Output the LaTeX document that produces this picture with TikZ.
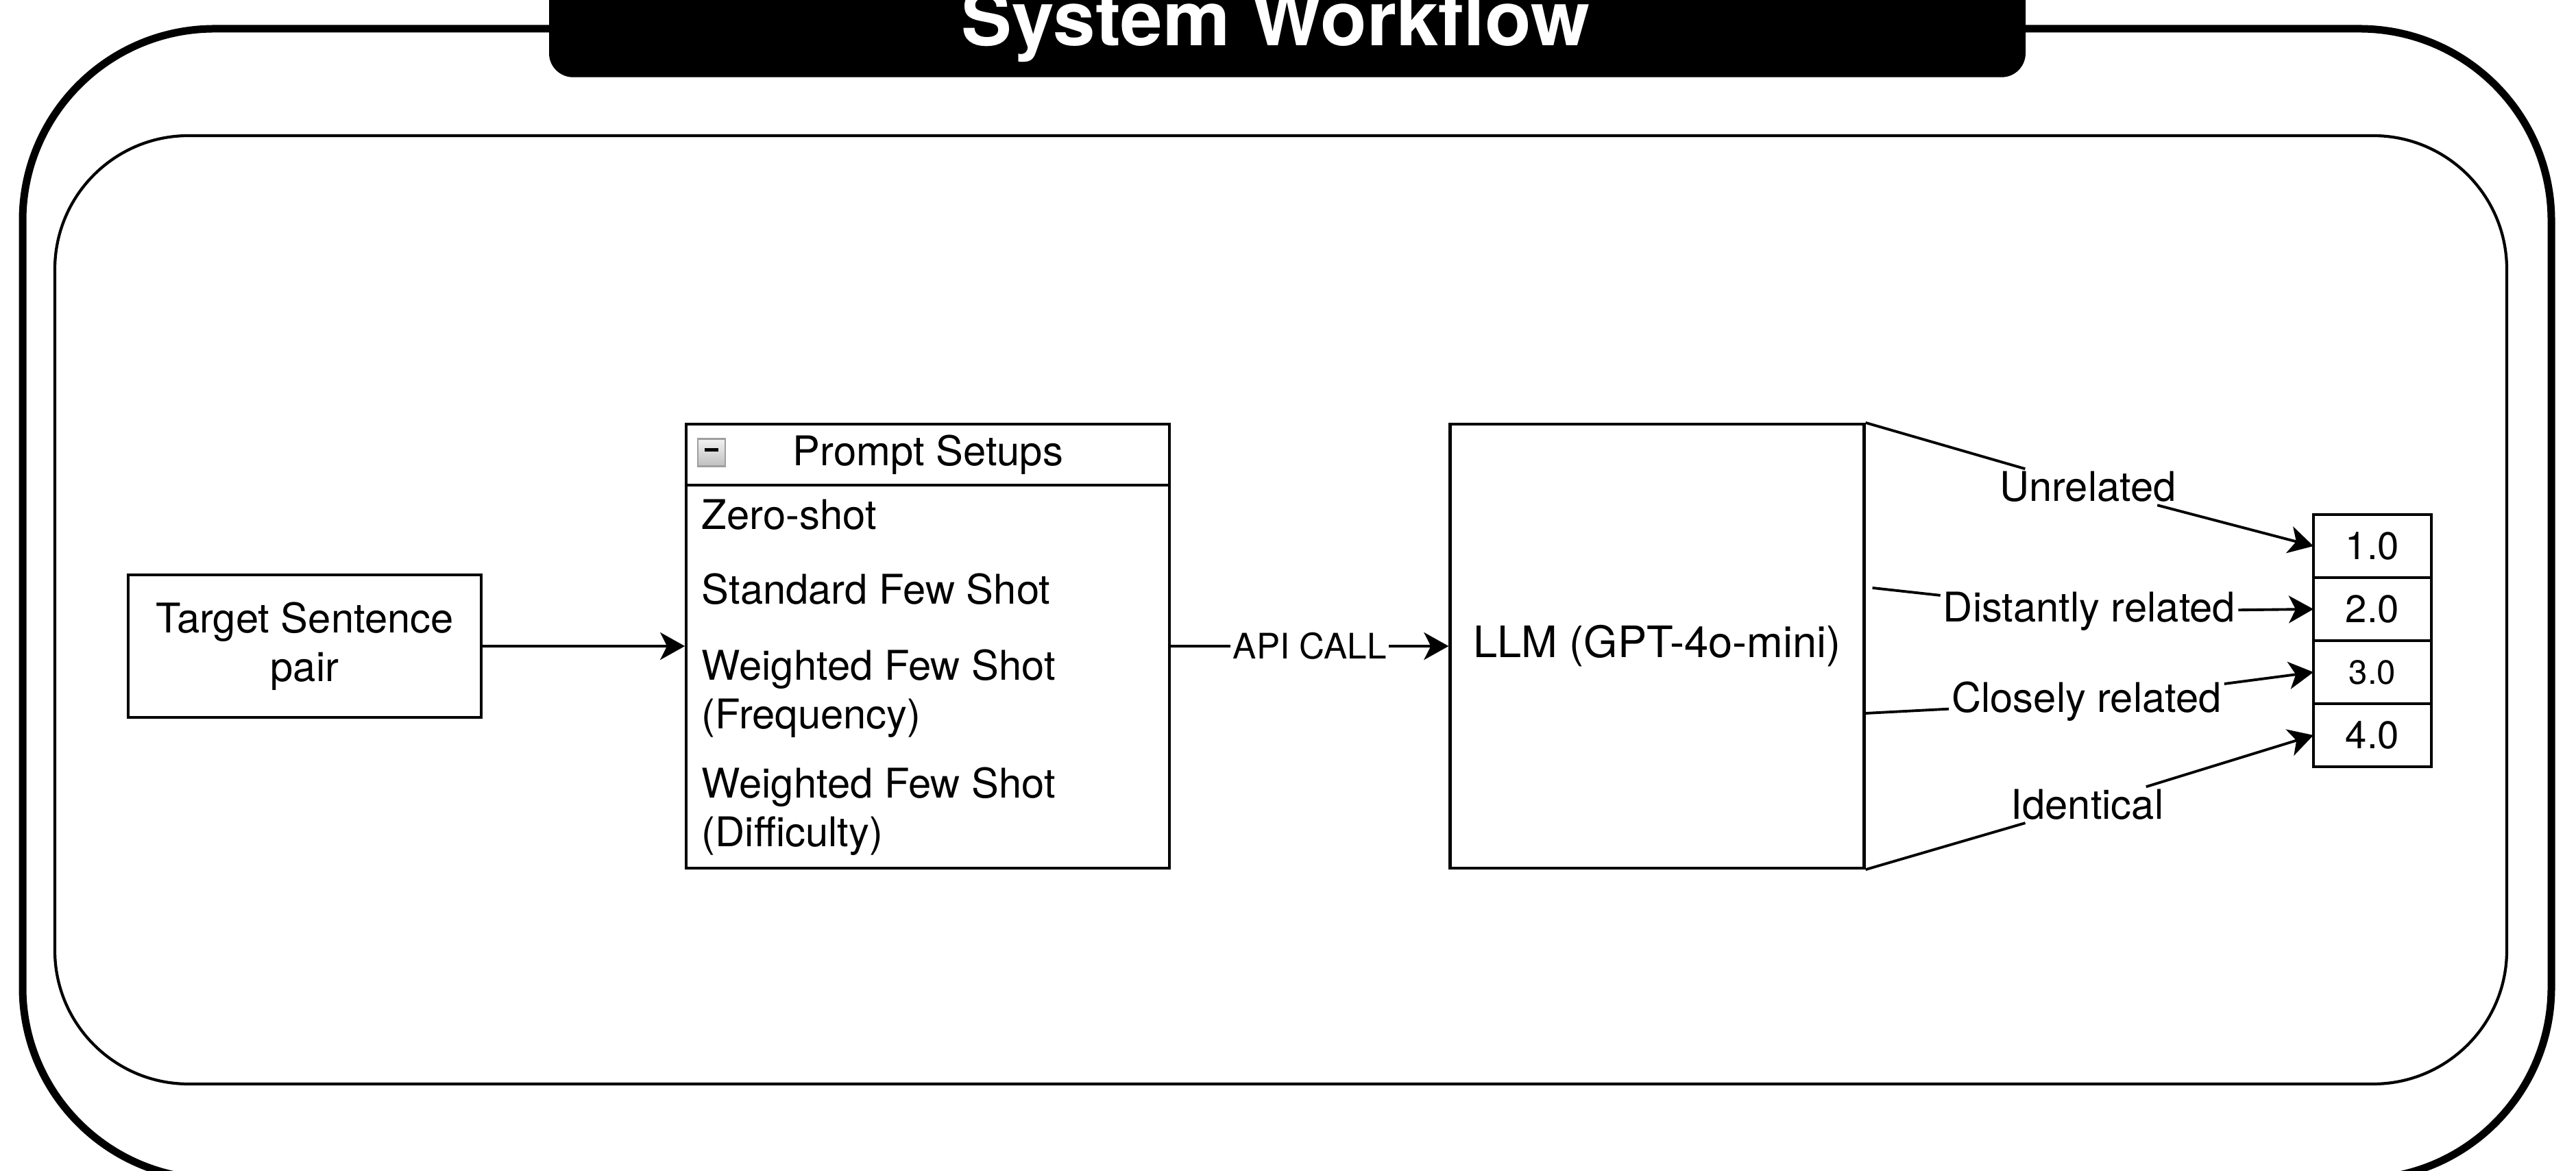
\documentclass[tikz,border=0pt]{standalone}
\usepackage{fontspec}
\setmainfont{TeX Gyre Heros}
\usetikzlibrary{arrows.meta,positioning,calc}
\tikzset{
  flow/.style={-{Stealth[length=3.6mm,width=4mm,inset=1mm]},line width=1.1pt},
  wire/.style={line width=1.1pt},
  box/.style={draw,line width=1.2pt,fill=white,align=center,inner sep=0pt},
  item/.style={align=left,inner sep=0pt,anchor=base west},
  score/.style={draw,line width=1.2pt,outer sep=0pt,inner sep=0pt,
                minimum width=1.72cm,minimum height=0.92cm,
                font=\fontsize{16}{19}\selectfont},
  rel/.style={fill=white,inner sep=1pt},
  toggle/.style={draw=gray!75,line width=0.6pt,top color=gray!10,bottom color=gray!50,
                 minimum size=0.4cm,inner sep=0pt},
  titlebar/.style={fill=black,rounded corners=0.35cm,inner sep=0pt},
  titletext/.style={text=white,inner sep=0pt,font=\bfseries\fontsize{31.5}{36}\selectfont},
  outerframe/.style={line width=0.11cm,rounded corners=2.8cm},
  innerpanel/.style={line width=1.2pt,rounded corners=1.95cm}
}

\begin{document}
\begin{tikzpicture}[node distance=2.95cm,font=\fontsize{17}{20.2}\selectfont]
  \useasboundingbox (0,0) rectangle (37.58,17.09);
  \clip (0,0) rectangle (37.58,17.09);

  % frames
  \draw[outerframe] (0.33,-0.12) rectangle (37.22,16.67);
  \draw[innerpanel] (0.80,1.27) rectangle (36.57,15.11);

  % title
  \node[titlebar,minimum width=21.54cm,minimum height=1.6cm,anchor=north] (bar) at (18.78,17.57) {};
  \node[titletext,anchor=base] (title) at (18.61,16.42) {System Workflow};

  % input and prompt setups
  \node[box,minimum width=5.15cm,minimum height=2.08cm] (target) at (4.445,7.66)
    {Target Sentence\\pair};
  \node[box,minimum width=7.05cm,minimum height=6.48cm,right=of target] (prompt) {};
  \node[box,minimum width=7.05cm,minimum height=0.89cm,anchor=north] (setups) at (prompt.north)
    {Prompt Setups};
  \node[toggle] (toggle) at ($(setups.west)+(0.39,0.03)$) {};
  \draw[line width=1.3pt] ($(toggle.center)+(-0.1,0.04)$) -- ($(toggle.center)+(0.1,0.04)$);

  % multi-line items sit on their last baseline
  \node[item] (zero) at ($(prompt.north west)+(0.24,-1.56)$) {Zero-shot};
  \node[item] (fewshot) at ($(prompt.north west)+(0.24,-2.65)$) {Standard Few Shot};
  \node[item] (freq) at ($(prompt.north west)+(0.24,-4.47)$) {Weighted Few Shot\\(Frequency)};
  \node[item] (diff) at ($(prompt.north west)+(0.24,-6.19)$) {Weighted Few Shot\\(Difficulty)};

  % model
  \node[box,minimum width=6.04cm,minimum height=6.48cm,right=4.05cm of prompt,
        font=\fontsize{18}{21}\selectfont] (llm) {LLM (GPT-4o-mini)};

  % scores
  \node[score] (sc1) at (34.61,9.12) {1.0};
  \node[score,below=0pt of sc1] (sc2) {2.0};
  \node[score,below=0pt of sc2,font=\fontsize{14}{17}\selectfont] (sc3) {3.0};
  \node[score,below=0pt of sc3] (sc4) {4.0};

  \draw[flow] (target) -- (prompt);
  \draw[flow] (prompt) -- node[rel,font=\fontsize{14.6}{17}\selectfont] (api) {API CALL} (llm);

  % relation labels
  \coordinate (dfrom) at ($(llm.east)+(0.10,0.85)$);
  \coordinate (cfrom) at ($(llm.east)+(0,-0.98)$);
  \node[rel,anchor=base] (unrel) at (30.46,9.77) {Unrelated};
  \node[rel,anchor=base] (distant) at (30.48,8.01) {Distantly related};
  \node[rel,anchor=base] (close) at (30.44,6.69) {Closely related};
  \node[rel,anchor=base] (ident) at (30.45,5.13) {Identical};

  \draw[wire] (llm.north east) -- (unrel);
  \draw[flow] (unrel) -- (sc1.west);
  \draw[wire] (dfrom) -- (distant);
  \draw[flow] (distant) -- (sc2.west);
  \draw[wire] (cfrom) -- (close);
  \draw[flow] (close) -- (sc3.west);
  \draw[wire] (llm.south east) -- (ident);
  \draw[flow] (ident) -- (sc4.west);
\end{tikzpicture}
\end{document}
